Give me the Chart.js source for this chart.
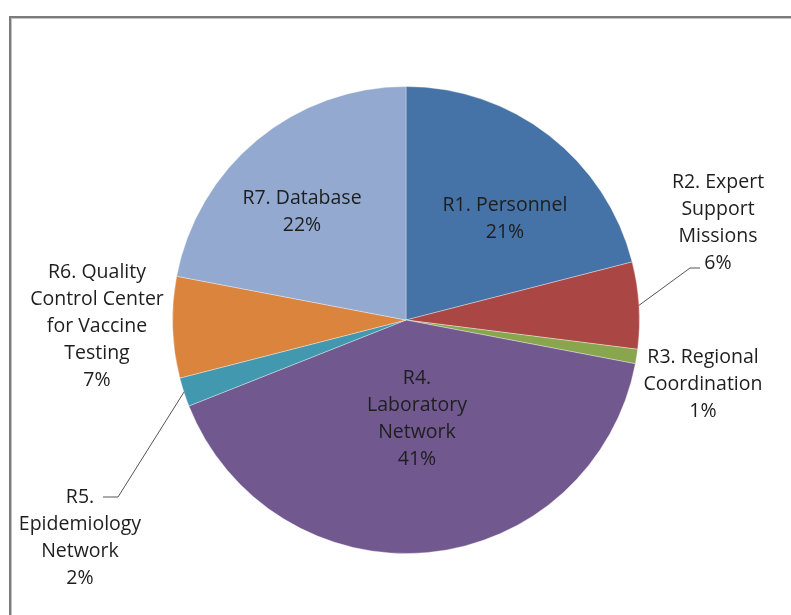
<!DOCTYPE html>
<html>
<head>
<meta charset="utf-8">
<script src="https://cdn.jsdelivr.net/npm/chart.js@4.4.1/dist/chart.umd.min.js"></script>
<style>
  html, body { margin: 0; padding: 0; background: #fff; }
  #wrap { position: relative; width: 791px; height: 615px; overflow: hidden; }
  #frame {
    position: absolute; left: 9px; top: 16px; width: 820px; height: 640px;
    border: 2px solid #7b7b7b;
    box-shadow: inset 1px 1px 0 #c4c4c4;
  }
  canvas { position: absolute; left: 0; top: 0; }
</style>
</head>
<body>
<div id="wrap">
  <div id="frame"></div>
  <canvas id="pie" width="791" height="615"></canvas>
</div>
<script>
// budget share per result area, clockwise from 12 o'clock
const categories = [
    "R1. Personnel",
    "R2. Expert Support Missions",
    "R3. Regional Coordination",
    "R4. Laboratory Network",
    "R5. Epidemiology Network",
    "R6. Quality Control Center for Vaccine Testing",
    "R7. Database"
];
const shares = [21, 6, 1, 41, 2, 7, 22];
const labelLines = [
    ["R1. Personnel"],
    ["R2. Expert", "Support", "Missions"],
    ["R3. Regional", "Coordination"],
    ["R4.", "Laboratory", "Network"],
    ["R5.", "Epidemiology", "Network"],
    ["R6. Quality", "Control Center", "for Vaccine", "Testing"],
    ["R7. Database"]
];

const colors = [
    "#4572a7", "#aa4643", "#89a54e", "#71588f",
    "#4198af", "#db843d", "#93a9cf"
];

// label block: first line centre, offset from the pie centre
const labelPos = [
    [99, -115], [312, -138], [297, 37], [11, 58],
    [-326, 177], [-309, -48], [-104, -122]
];
// leader lines for the small outside slices: elbow and end, from pie centre
const leaders = {
    1: [[284, -52], [294, -52]],
    4: [[-288, 177], [-303, 177]]
};

const LINE_H = 27;
const FONT = "19.5px 'Open Sans', Lato, sans-serif";

const pieLabels = {
    id: "pieLabels",
    afterDatasetsDraw(chart) {
        const ctx = chart.ctx;
        const arcs = chart.getDatasetMeta(0).data;
        ctx.save();
        arcs.forEach((arc, i) => {
            const { x, y, outerRadius, startAngle, endAngle } =
                arc.getProps(["x", "y", "outerRadius", "startAngle", "endAngle"], true);

            const lead = leaders[i];
            if (lead) {
                const mid = (startAngle + endAngle) / 2;
                ctx.beginPath();
                ctx.strokeStyle = "#555";
                ctx.lineWidth = 1;
                ctx.moveTo(x + Math.cos(mid) * outerRadius, y + Math.sin(mid) * outerRadius);
                ctx.lineTo(x + lead[0][0], y + lead[0][1]);
                ctx.lineTo(x + lead[1][0], y + lead[1][1]);
                ctx.stroke();
            }

            const lines = labelLines[i].concat([shares[i] + "%"]);
            ctx.font = FONT;
            ctx.fillStyle = "#1e1e1e";
            ctx.textAlign = "center";
            ctx.textBaseline = "middle";
            lines.forEach((t, k) => {
                ctx.fillText(t, x + labelPos[i][0], y + labelPos[i][1] + k * LINE_H);
            });
        });
        ctx.restore();
    }
};

new Chart(
    document.getElementById("pie").getContext("2d"),
{
    type: "pie",
    data: {
        labels: categories,
        datasets: [{
            data: shares,
            backgroundColor: colors,
            borderColor: "rgba(255,255,255,0.35)",
            borderWidth: 1
        }]
    },
    options: {
        responsive: false,
        animation: false,
        layout: {
            padding: { left: 172, right: 151, top: 86, bottom: 61 }
        },
        plugins: {
            legend: { display: false },
            tooltip: { enabled: false }
        }
    },
    plugins: [pieLabels]
});
</script>
</body>
</html>
